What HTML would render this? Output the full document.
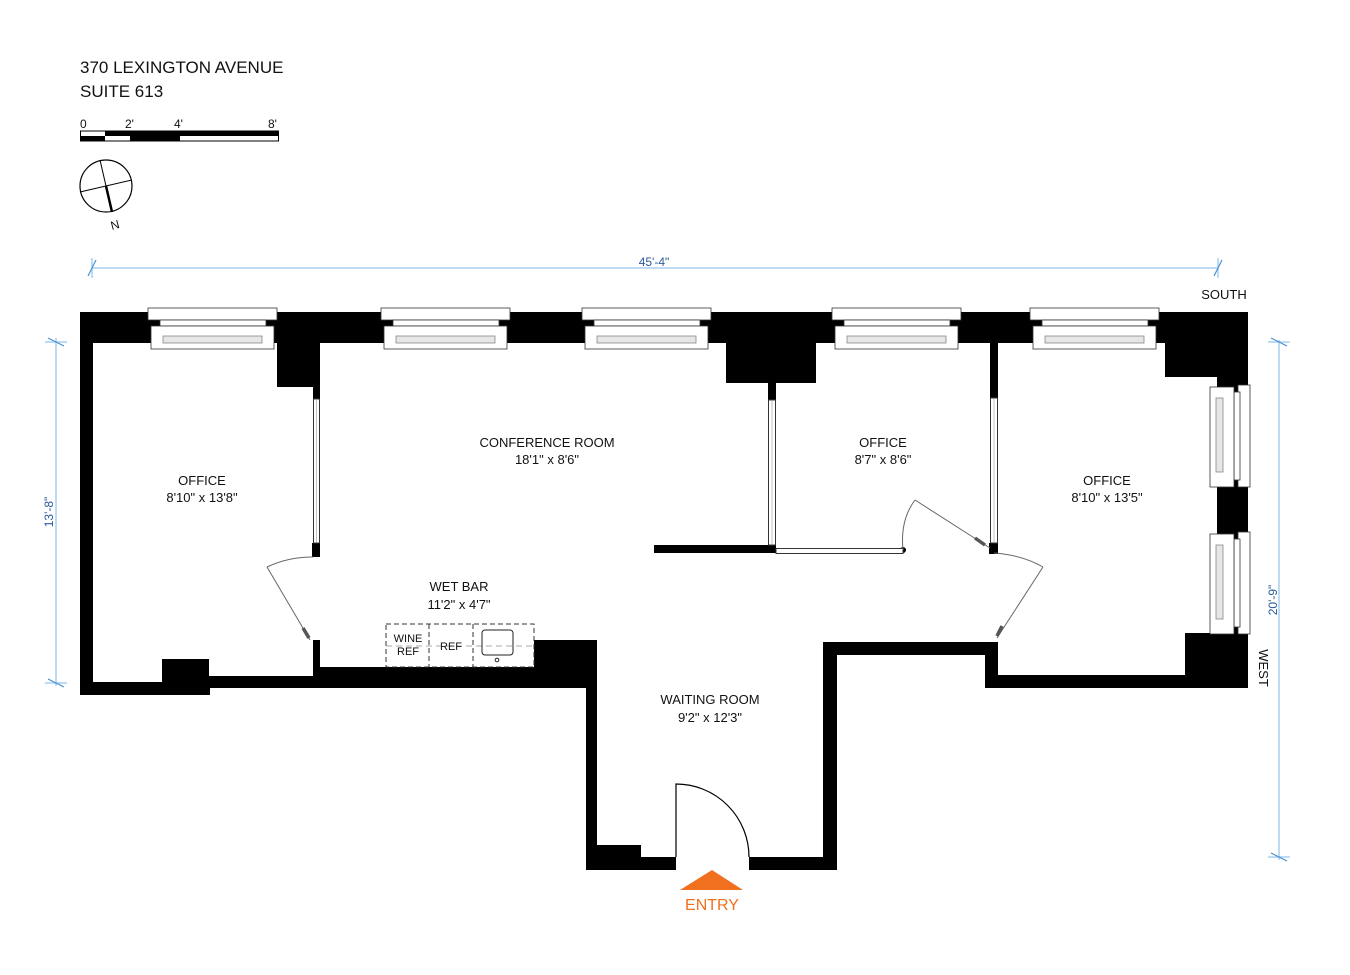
<!DOCTYPE html>
<html><head><meta charset="utf-8"><style>
html,body{margin:0;padding:0;background:#fff;}
svg{display:block;}
text{font-family:"Liberation Sans",Arial,sans-serif;}
</style></head><body>
<svg width="1350" height="975" viewBox="0 0 1350 975" xmlns="http://www.w3.org/2000/svg">
<rect width="1350" height="975" fill="#fff"/>
<!-- header -->
<text x="80" y="73" font-size="17" fill="#111">370 LEXINGTON AVENUE</text>
<text x="80" y="97" font-size="17" fill="#111">SUITE 613</text>
<text x="80" y="128" font-size="12" fill="#111">0</text>
<text x="125" y="128" font-size="12" fill="#111">2'</text>
<text x="174" y="128" font-size="12" fill="#111">4'</text>
<text x="268" y="128" font-size="12" fill="#111">8'</text>
<rect x="80.5" y="131" width="198" height="10" fill="#fff" stroke="#000" stroke-width="1"/>
<rect x="80" y="136" width="25" height="5" fill="#000"/>
<rect x="105" y="131" width="25" height="5" fill="#000"/>
<rect x="130" y="131" width="50" height="10" fill="#000"/>
<rect x="180" y="131" width="99" height="5" fill="#000"/>
<!-- compass -->
<circle cx="106" cy="186" r="26" fill="none" stroke="#000" stroke-width="1.2"/>
<line x1="100" y1="160" x2="112" y2="212" stroke="#000" stroke-width="1"/>
<line x1="106" y1="186" x2="112" y2="212" stroke="#000" stroke-width="2.5"/>
<line x1="80" y1="192" x2="132" y2="180" stroke="#000" stroke-width="1"/>
<text x="115" y="229" font-size="12" fill="#111" text-anchor="middle" transform="rotate(-15 115 225)">N</text>

<!-- dimensions -->
<g stroke="#a8cff0" stroke-width="1.5" fill="none">
<line x1="92" y1="268" x2="1218" y2="268"/>
<line x1="92" y1="258" x2="92" y2="278"/><line x1="1218" y1="258" x2="1218" y2="278"/>
<line x1="56" y1="338" x2="56" y2="686"/>
<line x1="45" y1="342" x2="67" y2="342"/><line x1="45" y1="683" x2="67" y2="683"/>
<line x1="1279" y1="340" x2="1279" y2="860"/>
<line x1="1268" y1="342" x2="1290" y2="342"/><line x1="1268" y1="857" x2="1290" y2="857"/>
</g>
<g stroke="#4a90d0" stroke-width="1.2">
<line x1="88" y1="276" x2="96" y2="260"/><line x1="1214" y1="276" x2="1222" y2="260"/>
<line x1="48" y1="338" x2="64" y2="346"/><line x1="48" y1="679" x2="64" y2="687"/>
<line x1="1271" y1="338" x2="1287" y2="346"/><line x1="1271" y1="853" x2="1287" y2="861"/>
</g>
<text x="654" y="266" font-size="12" fill="#2a5a9a" text-anchor="middle">45'-4"</text>
<text x="0" y="0" font-size="12" fill="#2a5a9a" text-anchor="middle" transform="translate(53 512) rotate(-90)">13'-8"</text>
<text x="0" y="0" font-size="12" fill="#2a5a9a" text-anchor="middle" transform="translate(1277 600) rotate(-90)">20'-9"</text>
<text x="1224" y="299" font-size="13" fill="#111" text-anchor="middle">SOUTH</text>
<text x="0" y="0" font-size="13" fill="#111" text-anchor="middle" transform="translate(1259 668) rotate(90)">WEST</text>

<!-- walls -->
<g fill="#000">
<rect x="80" y="312" width="1168" height="31"/>
<rect x="80" y="312" width="13" height="383"/>
<rect x="80" y="682" width="130" height="13"/>
<rect x="162" y="659" width="47" height="36"/>
<rect x="209" y="676" width="378" height="12"/>
<rect x="313" y="667" width="284" height="21"/>
<rect x="534" y="640" width="63" height="48"/>
<rect x="586" y="640" width="11" height="230"/>
<rect x="586" y="857" width="90" height="13"/>
<rect x="597" y="845" width="44" height="12"/>
<rect x="749" y="857" width="88" height="13"/>
<rect x="823" y="642" width="14" height="228"/>
<rect x="823" y="642" width="175" height="13"/>
<rect x="985" y="642" width="13" height="46"/>
<rect x="985" y="675" width="263" height="13"/>
<rect x="1185" y="633" width="63" height="55"/>
<rect x="1217" y="343" width="31" height="345"/>
<rect x="1165" y="312" width="83" height="65"/>
<rect x="277" y="343" width="43" height="44"/>
<rect x="313" y="387" width="7" height="12"/>
<rect x="312" y="543" width="8" height="14"/>
<rect x="313" y="640" width="7" height="27"/>
<rect x="726" y="343" width="90" height="40"/>
<rect x="768" y="383" width="8" height="17"/>
<rect x="654" y="545" width="122" height="8"/>
<rect x="990" y="343" width="8" height="55"/>
<rect x="989" y="543" width="9" height="11"/>
<circle cx="903" cy="550" r="3"/>
</g>
<!-- glass partitions -->
<g fill="#fff" stroke="#333" stroke-width="1">
<rect x="313.5" y="399" width="6" height="144"/>
<rect x="768.5" y="400" width="7" height="145"/>
<rect x="776" y="548.5" width="127" height="5"/>
<rect x="990.5" y="398" width="7" height="145"/>
</g>
<g stroke="#999" stroke-width="0.6"><line x1="316.5" y1="400" x2="316.5" y2="543"/><line x1="772" y1="400" x2="772" y2="545"/><line x1="994" y1="398" x2="994" y2="543"/></g>

<!-- top windows -->
<g id="w">
<rect x="148" y="308" width="129" height="12" fill="#fff" stroke="#333" stroke-width="0.8"/>
<rect x="160" y="320" width="106" height="6" fill="#fff" stroke="#333" stroke-width="0.8"/>
<rect x="151" y="326" width="123" height="23" fill="#fff" stroke="#333" stroke-width="0.8"/>
<rect x="163" y="336" width="99" height="7" fill="#e6e6e6" stroke="#888" stroke-width="0.8"/>
</g>
<use href="#w" x="233"/>
<use href="#w" x="434"/>
<use href="#w" x="684"/>
<use href="#w" x="882"/>
<!-- side windows -->
<g id="sw">
<rect x="1238" y="385" width="12" height="102" fill="#fff" stroke="#333" stroke-width="0.8"/>
<rect x="1234" y="392" width="6" height="88" fill="#fff" stroke="#333" stroke-width="0.8"/>
<rect x="1210" y="387" width="24" height="100" fill="#fff" stroke="#333" stroke-width="0.8"/>
<rect x="1216" y="398" width="7" height="74" fill="#e6e6e6" stroke="#888" stroke-width="0.8"/>
</g>
<use href="#sw" y="147"/>

<!-- doors -->
<g fill="none" stroke="#666" stroke-width="1">
<path d="M313 557 Q288 557 267 567"/>
<line x1="267" y1="567" x2="310" y2="640"/>
<path d="M903 550 Q900 520 915 500"/>
<line x1="915" y1="500" x2="990" y2="548"/>
<path d="M994 553 Q1022 555 1043 567"/>
<line x1="1043" y1="567" x2="997" y2="638"/>
</g>
<g stroke="#555" stroke-width="3.5"><line x1="303" y1="628" x2="309" y2="638"/><line x1="975" y1="538" x2="985" y2="545"/><line x1="1002" y1="626" x2="997" y2="636"/></g>
<path d="M676 857 L676 784 A73 73 0 0 1 749 857" fill="#fff" stroke="#000" stroke-width="1.2"/>

<!-- wet bar -->
<g fill="none" stroke="#333" stroke-width="1" stroke-dasharray="5,3">
<rect x="386" y="624" width="148" height="43"/>
<line x1="429" y1="624" x2="429" y2="667"/>
<line x1="473" y1="624" x2="473" y2="667"/>
</g>
<line x1="386" y1="646" x2="534" y2="646" stroke="#aaa" stroke-dasharray="6,4"/>
<rect x="482" y="630" width="31" height="25" rx="3" fill="none" stroke="#222" stroke-width="1"/>
<circle cx="497" cy="660" r="1.8" fill="none" stroke="#222"/>
<text x="408" y="642" font-size="11" text-anchor="middle" fill="#111">WINE</text>
<text x="408" y="655" font-size="11" text-anchor="middle" fill="#111">REF</text>
<text x="451" y="650" font-size="11" text-anchor="middle" fill="#111">REF</text>

<!-- labels -->
<g font-size="13" fill="#111" text-anchor="middle">
<text x="202" y="485">OFFICE</text><text x="202" y="502">8'10" x 13'8"</text>
<text x="547" y="447">CONFERENCE ROOM</text><text x="547" y="464">18'1" x 8'6"</text>
<text x="883" y="447">OFFICE</text><text x="883" y="464">8'7" x 8'6"</text>
<text x="1107" y="485">OFFICE</text><text x="1107" y="502">8'10" x 13'5"</text>
<text x="459" y="591">WET BAR</text><text x="459" y="609">11'2" x 4'7"</text>
<text x="710" y="704">WAITING ROOM</text><text x="710" y="722">9'2" x 12'3"</text>
</g>
<polygon points="680,890 712,870 743,890" fill="#f07020"/>
<text x="712" y="910" font-size="16" fill="#f07020" text-anchor="middle">ENTRY</text>
</svg>
</body></html>
